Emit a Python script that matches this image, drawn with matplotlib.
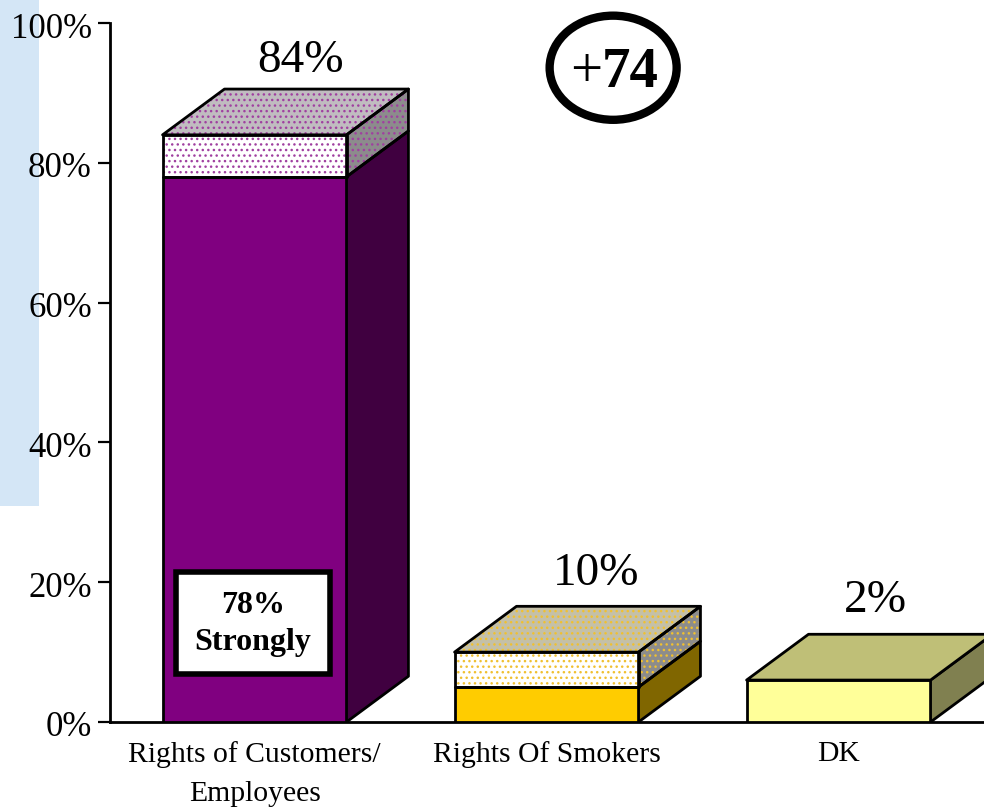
import matplotlib
matplotlib.use('Agg')
from matplotlib import pyplot as plt
from matplotlib.patches import Polygon, Ellipse, Rectangle
from matplotlib.transforms import ScaledTranslation

categories = ['Rights of Customers/\nEmployees', 'Rights Of Smokers', 'DK']
strong_values = [78, 5, 0]
total_heights = [84, 10, 6]
total_labels = ['84%', '10%', '2%']
y_ticks = [0, 20, 40, 60, 80, 100]

front_colors = ['#800080', '#FFCC00', '#FFFF99']
top_colors = ['#C0BCC0', '#C4C0A8', '#BFBF77']
side_colors = ['#400040', '#806600', '#808050']
dot_colors = ['#A040A0', '#F0C030', None]

# where the value labels sit relative to each bar
label_dx = [0.157, 0.171, 0.125]
label_dy = [1.0, 1.6, 1.7]

W, H = 984, 809
LEFT, RIGHT, TOP, BOTTOM = 110, 984, 23, 722
BAR_W = 0.63
DX = 0.212   # 3d depth, in data units
DY = 6.55

plt.rcParams['font.family'] = ['Liberation Serif', 'DejaVu Serif']
plt.rcParams['hatch.linewidth'] = 1.0

fig = plt.figure(figsize=(W / 100, H / 100), dpi=100)
fig.patch.set_facecolor('white')
# light blue strip behind the axis labels
fig.add_artist(Rectangle((0, 1 - 506 / H), 39 / W, 506 / H, transform=fig.transFigure,
                         facecolor='#D4E6F6', edgecolor='none', zorder=-5))

ax = fig.add_axes([LEFT / W, 1 - BOTTOM / H, (RIGHT - LEFT) / W, (BOTTOM - TOP) / H])
ax.patch.set_alpha(0)
ax.set_xlim(-0.495, 2.498)
ax.set_ylim(0, 100)


def poly(points, color, dots=None):
    if dots:
        ax.add_patch(Polygon(points, facecolor=color, edgecolor=dots, hatch='...', lw=0, zorder=2))
        ax.add_patch(Polygon(points, facecolor='none', edgecolor='black', lw=2, zorder=3, joinstyle='round'))
    else:
        ax.add_patch(Polygon(points, facecolor=color, edgecolor='black', lw=2, zorder=3, joinstyle='round'))


def box(x0, x1, y0, y1, front, side, dots=None, front_dotted=False):
    poly([(x0, y0), (x1, y0), (x1, y1), (x0, y1)], front, dots if front_dotted else None)
    poly([(x1, y0), (x1 + DX, y0 + DY), (x1 + DX, y1 + DY), (x1, y1)], side, dots)


for i in range(len(categories)):
    x0, x1 = i - BAR_W / 2, i + BAR_W / 2
    strong, total = strong_values[i], total_heights[i]
    if strong > 0:
        box(x0, x1, 0, strong, front_colors[i], side_colors[i])
        box(x0, x1, strong, total, 'white', '#8C8C8C', dot_colors[i], True)
    else:
        box(x0, x1, 0, total, front_colors[i], side_colors[i])
    poly([(x0, total), (x1, total), (x1 + DX, total + DY), (x0 + DX, total + DY)], top_colors[i], dot_colors[i])
    ax.text(i + label_dx[i], total + DY + label_dy[i], total_labels[i], fontsize=34, ha='center', va='bottom', zorder=5)

ax.add_patch(Rectangle((-0.27, 6.8), 0.53, 14.6, facecolor='white', edgecolor='black', lw=4, zorder=6))
ax.text(-0.005, 14.0, '78%\nStrongly', fontsize=23, fontweight='bold', ha='center', va='center',
        linespacing=1.36, zorder=7)

ax.add_patch(Ellipse((1.228, 93.6), 0.435, 14.9, facecolor='white', edgecolor='black', lw=6, zorder=6,
                     clip_on=False))
ax.text(1.19, 92.9, '+', fontsize=41, ha='right', va='center', zorder=7)
ax.text(1.19, 92.9, '74', fontsize=41, fontweight='bold', ha='left', va='center', zorder=7)

ax.set_xticks(range(len(categories)))
ax.set_xticklabels(categories, fontsize=21.3, linespacing=1.65)
ax.set_yticks(y_ticks)
ax.set_yticklabels([f'{v}%' for v in y_ticks], fontsize=25)
ax.tick_params(axis='x', length=0, pad=14)
ax.tick_params(axis='y', length=8.5, width=1.6, pad=4.5)
# tick labels sit a little below their ticks in the original
nudge = ScaledTranslation(0, -2 / 100, fig.dpi_scale_trans)
for label in ax.get_yticklabels():
    label.set_transform(label.get_transform() + nudge)
ax.spines['top'].set_visible(False)
ax.spines['right'].set_visible(False)
ax.spines['left'].set_linewidth(2)
ax.spines['bottom'].set_linewidth(2)

fig.savefig('out.png', dpi=100)
